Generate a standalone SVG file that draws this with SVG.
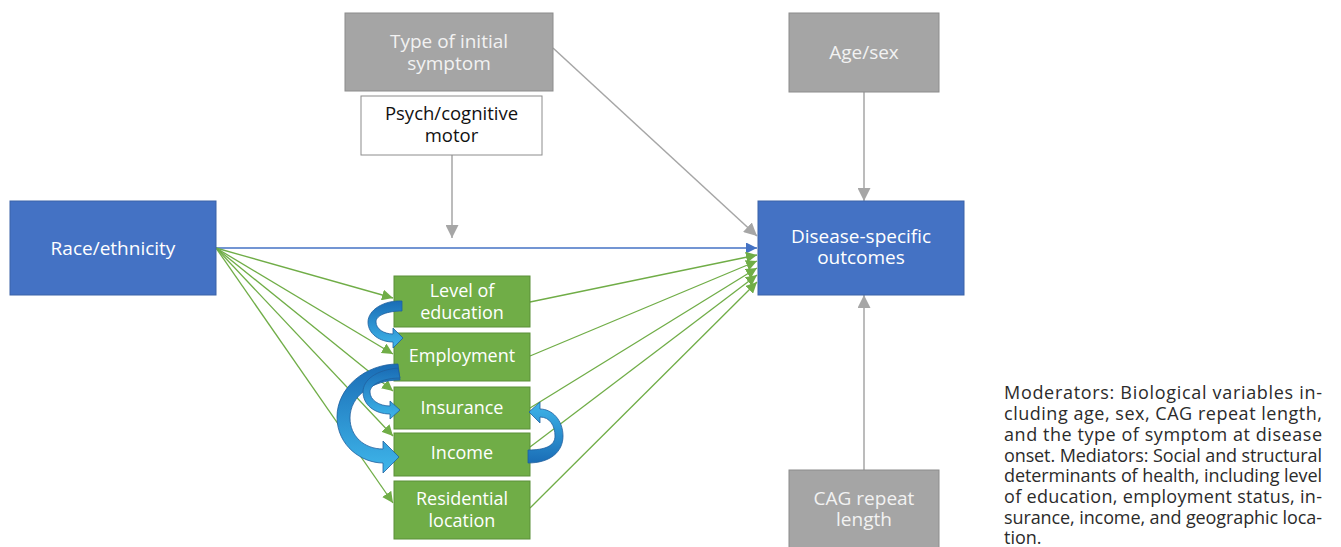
<svg xmlns="http://www.w3.org/2000/svg" width="1341" height="547" viewBox="0 0 1341 547">
  <defs>
    <style>
      .box-blue { fill: #4472c4; stroke: #3a62a8; stroke-width: 1; }
      .box-gray { fill: #a5a5a5; stroke: #8c8c8c; stroke-width: 1; }
      .box-green { fill: #70ad47; stroke: #5b8f38; stroke-width: 1; }
      .box-white { fill: #ffffff; stroke: #8c8c8c; stroke-width: 1; }
      .lbl { font-family: "Open Sans", "Noto Sans", "Liberation Sans", sans-serif; text-anchor: middle; }
      .lbl-lg { font-size: 19px; fill: #ffffff; }
      .lbl-gray { font-size: 19px; fill: #f2f2f2; }
      .lbl-dark { font-size: 18.5px; fill: #111111; }
      .lbl-green { font-size: 18px; fill: #ffffff; }
      .edge-gray { stroke: #a6a6a6; stroke-width: 1.5; fill: none; marker-end: url(#head-gray); }
      .edge-green { stroke: #70ad47; stroke-width: 1.3; fill: none; marker-end: url(#head-green); }
      .edge-blue { stroke: #4472c4; stroke-width: 1.5; fill: none; marker-end: url(#head-blue); }
      .curve-down { fill: url(#grad-down); stroke: #1f5f9e; stroke-width: 0.8; }
      .curve-up { fill: url(#grad-up); stroke: #1f5f9e; stroke-width: 0.8; }
      .note { font-family: "Open Sans", "Noto Sans", "Liberation Sans", sans-serif; font-size: 18px; fill: #2b2b2b; }
    </style>
    <marker id="head-gray" markerUnits="userSpaceOnUse" markerWidth="14" markerHeight="13" refX="13" refY="6.5" orient="auto">
      <path d="M0,0 L13,6.5 L0,13 Z" fill="#a6a6a6"/>
    </marker>
    <marker id="head-green" markerUnits="userSpaceOnUse" markerWidth="12" markerHeight="11" refX="11" refY="5.5" orient="auto">
      <path d="M0,0 L11,5.5 L0,11 Z" fill="#70ad47"/>
    </marker>
    <marker id="head-blue" markerUnits="userSpaceOnUse" markerWidth="12" markerHeight="11" refX="11" refY="5.5" orient="auto">
      <path d="M0,0 L11,5.5 L0,11 Z" fill="#4472c4"/>
    </marker>
    <linearGradient id="grad-down" x1="0" y1="0" x2="0" y2="1">
      <stop offset="0" stop-color="#1a6db6"/>
      <stop offset="1" stop-color="#3fb6ea"/>
    </linearGradient>
    <linearGradient id="grad-up" x1="0" y1="1" x2="0" y2="0">
      <stop offset="0" stop-color="#1a6db6"/>
      <stop offset="1" stop-color="#3fb6ea"/>
    </linearGradient>
  </defs>

  <!-- straight connectors -->
  <g id="connectors">
    <!-- moderators -->
    <line class="edge-gray" x1="553" y1="48" x2="757" y2="236"/>
    <line class="edge-gray" x1="452" y1="155" x2="452" y2="238"/>
    <line class="edge-gray" x1="864" y1="92" x2="864" y2="201"/>
    <line class="edge-gray" x1="864" y1="470" x2="864" y2="295"/>

    <!-- direct effect -->
    <line class="edge-blue" x1="216" y1="248" x2="757" y2="248"/>

    <!-- exposure to mediators -->
    <line class="edge-green" x1="216" y1="248" x2="393" y2="298"/>
    <line class="edge-green" x1="216" y1="248" x2="393" y2="354"/>
    <line class="edge-green" x1="216" y1="248" x2="393" y2="391"/>
    <line class="edge-green" x1="216" y1="248" x2="393" y2="436"/>
    <line class="edge-green" x1="216" y1="248" x2="393" y2="503"/>

    <!-- mediators to outcome -->
    <line class="edge-green" x1="530" y1="302" x2="757" y2="255"/>
    <line class="edge-green" x1="530" y1="356" x2="757" y2="261"/>
    <line class="edge-green" x1="530" y1="408" x2="757" y2="268"/>
    <line class="edge-green" x1="530" y1="447" x2="757" y2="275"/>
    <line class="edge-green" x1="530" y1="508" x2="757" y2="282"/>
  </g>

  <!-- nodes -->
  <g id="node-initial-symptom">
    <rect class="box-gray" x="345" y="13" width="208" height="78"/>
    <text class="lbl lbl-gray" x="449" y="48">Type of initial</text>
    <text class="lbl lbl-gray" x="449" y="70">symptom</text>
  </g>

  <g id="node-symptom-kind">
    <rect class="box-white" x="361" y="96" width="181" height="59"/>
    <text class="lbl lbl-dark" x="451.5" y="120">Psych/cognitive</text>
    <text class="lbl lbl-dark" x="451.5" y="141.5">motor</text>
  </g>

  <g id="node-age-sex">
    <rect class="box-gray" x="789" y="13" width="150" height="79"/>
    <text class="lbl lbl-gray" x="864" y="59">Age/sex</text>
  </g>

  <g id="node-outcomes">
    <rect class="box-blue" x="758" y="201" width="206" height="94"/>
    <text class="lbl lbl-lg" x="861" y="242.5">Disease-specific</text>
    <text class="lbl lbl-lg" x="861" y="264">outcomes</text>
  </g>

  <g id="node-race">
    <rect class="box-blue" x="10" y="201" width="206" height="94"/>
    <text class="lbl lbl-lg" x="113" y="254.5">Race/ethnicity</text>
  </g>

  <g id="node-education">
    <rect class="box-green" x="394" y="276" width="136" height="51"/>
    <text class="lbl lbl-green" x="462" y="297">Level of</text>
    <text class="lbl lbl-green" x="462" y="319">education</text>
  </g>

  <g id="node-employment">
    <rect class="box-green" x="394" y="333" width="136" height="48"/>
    <text class="lbl lbl-green" x="462" y="362">Employment</text>
  </g>

  <g id="node-insurance">
    <rect class="box-green" x="394" y="387" width="136" height="42"/>
    <text class="lbl lbl-green" x="462" y="414">Insurance</text>
  </g>

  <g id="node-income">
    <rect class="box-green" x="394" y="433" width="136" height="43"/>
    <text class="lbl lbl-green" x="462" y="459">Income</text>
  </g>

  <g id="node-residence">
    <rect class="box-green" x="394" y="481" width="136" height="58"/>
    <text class="lbl lbl-green" x="462" y="505">Residential</text>
    <text class="lbl lbl-green" x="462" y="527">location</text>
  </g>

  <g id="node-cag">
    <rect class="box-gray" x="789" y="470" width="150" height="79"/>
    <text class="lbl lbl-gray" x="864" y="504.5">CAG repeat</text>
    <text class="lbl lbl-gray" x="864" y="526">length</text>
  </g>

  <!-- curved block arrows between mediators -->
  <g id="mediator-links">
    <!-- education to employment -->
    <path class="curve-down" d="M402,301 C384,300 368,310 368,322 C368,334 380,342 393,342 L393,348 L403,338 L393,328 L393,334 C384,334 376,329 376,322 C376,315 388,311 402,311 Z"/>
    <!-- employment to income -->
    <path class="curve-down" d="M398,364 C365,364 337,388 337,417 C337,446 362,463 383,463 L383,473 L399,457 L383,441 L383,449 C364,449 350,436 350,418 C350,396 372,380 400,380 Z"/>
    <!-- employment to insurance -->
    <path class="curve-down" d="M398,368 C376,370 363,380 363,392 C363,405 375,414 390,414 L390,419 L400,410 L390,401 L390,406 C379,406 370,400 370,392 C370,384 384,378 400,378 Z"/>
    <!-- income to insurance -->
    <path class="curve-up" d="M528,463 C550,463 563,452 563,436 C563,420 552,409 540,409 L540,402 L529,412 L540,423 L540,417 C550,417 555,426 555,436 C555,446 545,450 528,450 Z"/>
  </g>

  <!-- explanatory note, justified lines -->
  <g id="note">
    <text class="note" x="1004" y="399" textLength="318" lengthAdjust="spacing">Moderators: Biological variables in-</text>
    <text class="note" x="1004" y="420" textLength="318" lengthAdjust="spacing">cluding age, sex, CAG repeat length,</text>
    <text class="note" x="1004" y="441" textLength="318" lengthAdjust="spacing">and the type of symptom at disease</text>
    <text class="note" x="1004" y="462" textLength="318" lengthAdjust="spacing">onset. Mediators: Social and structural</text>
    <text class="note" x="1004" y="482" textLength="318" lengthAdjust="spacing">determinants of health, including level</text>
    <text class="note" x="1004" y="503" textLength="318" lengthAdjust="spacing">of education, employment status, in-</text>
    <text class="note" x="1004" y="524" textLength="318" lengthAdjust="spacing">surance, income, and geographic loca-</text>
    <text class="note" x="1004" y="544">tion.</text>
  </g>
</svg>
